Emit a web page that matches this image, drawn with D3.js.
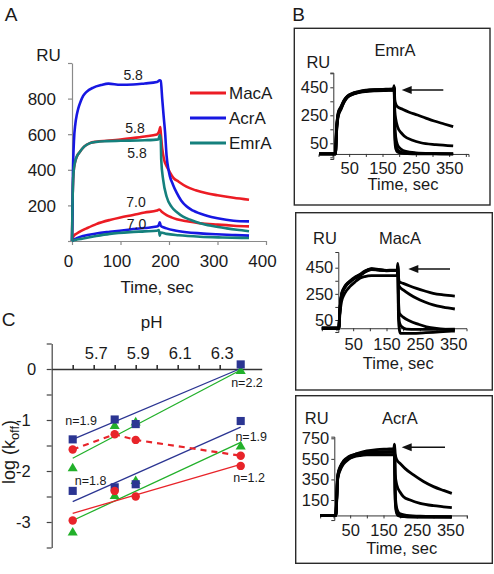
<!DOCTYPE html>
<html><head><meta charset="utf-8">
<script src="https://cdn.jsdelivr.net/npm/d3@7"></script>
<style>
body{margin:0;background:#fff}
svg{display:block;background:#fff}
text{font-family:"Liberation Sans",Arial,Helvetica,sans-serif;fill:#1a1a1a}
</style>
</head><body>
<svg id="c" width="494" height="574"></svg>
<script>
// ---------------- Panel A data (time s, RU) ----------------
const tickA_x = [0,100,200,300,400];
const tickA_y = [0,200,400,600,800,1000];
const labelA_y = [200,400,600,800];
const legendA = ["MacA","AcrA","EmrA"];
const macA_58 = [[0,0],[1,200],[3,380],[6,440],[10,475],[16,500],[25,530],[37,550],[50,558],[72,563],[100,570],[125,578],[150,587],[175,598],[180,620],[182,640],[183,610],[186,520],[190,455],[195,420],[200,395],[209,355],[220,333],[236,305],[255,285],[278,268],[300,257],[333,243],[365,232]];
const acrA_58 = [[0,0],[1,150],[2,380],[4,560],[7,660],[10,710],[13,745],[18,785],[23,815],[30,838],[44,862],[60,876],[75,884],[100,878],[126,879],[150,885],[175,893],[181,903],[183,900],[186,800],[189,700],[192,607],[195,480],[199,400],[202,362],[208,318],[216,270],[225,228],[236,195],[250,170],[278,142],[300,128],[333,114],[365,110]];
const emrA_58 = [[0,0],[1,200],[3,380],[6,440],[10,475],[16,500],[25,530],[37,550],[50,557],[72,561],[100,563],[150,566],[178,571],[181,595],[183,570],[184,456],[188,343],[195,250],[205,193],[217,160],[229,137],[245,118],[264,100],[290,84],[319,71],[340,63],[365,55]];
const macA_70 = [[0,0],[2,20],[4,30],[10,42],[20,58],[30,71],[50,95],[78,118],[100,132],[126,146],[150,160],[175,171],[180,177],[185,165],[195,146],[205,133],[216,122],[240,110],[264,100],[300,92],[333,86],[365,82]];
const acrA_70 = [[0,0],[4,8],[10,16],[23,28],[50,42],[78,52],[120,65],[150,73],[175,81],[179,90],[181,105],[183,85],[190,76],[195,71],[210,60],[236,49],[265,43],[298,38],[330,34],[365,30]];
const emrA_70 = [[0,0],[4,4],[10,8],[23,14],[50,28],[78,40],[120,50],[150,54],[175,58],[179,62],[181,30],[183,48],[195,40],[220,32],[264,24],[310,20],[365,17]];
const annotA = [["5.8",126,935],["5.8",130,636],["5.8",134,495],["7.0",132,219],["7.0",133,96]];

// ---------------- Panel B data (time s, RU) ----------------
const tickB_x = [0,50,100,150,200,250,300,350,400];
const labelB_x = [50,150,250,350];
const emrB = [
 [[-40,-26],[9,-26],[10,20],[12,140],[14,200],[17,255],[25,300],[35,352],[45,382],[60,402],[75,413],[100,424],[130,430],[160,431],[183,433],[185,462],[187,360],[190,330],[195,311],[210,293],[230,272],[255,252],[280,230],[305,209],[335,188],[362,169]],
 [[-40,-26],[9,-26],[10,10],[12,120],[14,185],[17,240],[25,290],[35,345],[45,378],[60,398],[75,410],[100,420],[130,425],[160,427],[183,428],[185,455],[187,280],[190,220],[195,169],[205,128],[215,102],[240,72],[265,54],[310,40],[362,31]],
 [[-40,-26],[9,-26],[10,30],[12,160],[14,215],[17,268],[25,310],[35,360],[45,388],[60,408],[75,418],[100,430],[130,434],[160,435],[183,436],[185,450],[187,180],[190,90],[195,40],[205,10],[220,-8],[250,-18],[300,-23],[362,-25]],
 [[-40,-26],[9,-26],[10,15],[12,130],[14,195],[17,250],[25,295],[35,348],[45,380],[60,400],[75,412],[100,422],[130,428],[160,430],[183,431],[185,445],[187,120],[190,40],[195,5],[205,-12],[225,-22],[362,-25]],
 [[-40,-26],[9,-26],[10,25],[12,150],[14,210],[17,262],[25,305],[35,356],[45,386],[60,405],[75,416],[100,427],[130,433],[160,436],[183,438],[185,440],[187,80],[190,10],[195,-12],[210,-22],[240,-25],[362,-25]]
];
const macB = [
 [[-44,-13],[7,-13],[8,20],[10,120],[12,180],[15,241],[22,290],[30,320],[40,343],[55,372],[70,394],[85,420],[105,440],[125,435],[150,430],[170,432],[182,432],[184,483],[186,380],[189,342],[200,330],[220,310],[240,292],[265,272],[290,254],[320,242],[355,233]],
 [[-44,-13],[7,-13],[8,10],[10,90],[12,140],[15,190],[22,240],[30,275],[40,305],[55,340],[70,369],[85,382],[105,389],[130,390],[160,390],[182,391],[184,470],[186,330],[189,304],[200,280],[220,245],[240,216],[265,188],[290,165],[320,148],[355,134]],
 [[-44,-13],[7,-13],[8,25],[10,125],[12,185],[15,245],[22,295],[30,325],[40,348],[55,377],[70,398],[85,425],[105,443],[125,438],[150,428],[170,430],[182,430],[184,460],[186,200],[189,101],[200,72],[220,42],[245,18],[270,-2],[300,-15],[330,-22],[355,-26]],
 [[-44,-13],[7,-13],[8,15],[10,115],[12,175],[15,236],[22,285],[30,316],[40,340],[55,368],[70,390],[85,415],[105,436],[125,432],[150,426],[170,428],[182,429],[184,440],[186,120],[189,30],[195,0],[210,-20],[240,-22],[355,-20]],
 [[-44,-13],[7,-13],[8,20],[10,118],[12,178],[15,238],[22,288],[30,318],[40,342],[55,370],[70,392],[85,418],[105,438],[125,433],[150,428],[170,430],[182,430],[184,445],[186,60],[189,-30],[192,-52],[230,-52],[260,-48],[290,-44],[320,-39],[355,-34]]
];
const acrB = [
 [[-40,0],[7,0],[8,50],[10,200],[12,361],[15,420],[20,465],[30,523],[45,565],[60,588],[80,610],[100,627],[130,640],[160,645],[181,648],[183,693],[185,600],[190,540],[200,505],[215,455],[240,394],[270,330],[300,280],[330,243],[355,215]],
 [[-40,0],[7,0],[8,40],[10,180],[12,340],[15,400],[20,450],[30,510],[45,552],[60,575],[80,595],[100,610],[130,618],[160,620],[181,622],[183,680],[185,400],[190,296],[200,225],[210,182],[230,150],[260,118],[300,95],[330,84],[355,75]],
 [[-40,0],[7,0],[8,60],[10,210],[12,370],[15,430],[20,475],[30,530],[45,570],[60,590],[80,603],[100,612],[130,616],[160,617],[181,618],[183,650],[185,250],[188,100],[193,40],[200,15],[220,0],[260,-8],[355,-12]],
 [[-40,0],[7,0],[8,35],[10,170],[12,330],[15,392],[20,440],[30,500],[45,545],[60,568],[80,582],[100,588],[130,590],[160,590],[181,590],[183,620],[185,200],[188,60],[193,10],[205,-8],[240,-14],[355,-15]],
 [[-40,0],[7,0],[8,55],[10,195],[12,355],[15,415],[20,460],[30,518],[45,560],[60,582],[80,600],[100,608],[130,612],[160,614],[181,615],[183,630],[185,150],[188,40],[193,0],[210,-12],[250,-16],[355,-18]]
];

// ---------------- Panel C data (pH, log koff) ----------------
const pH = [5.6,5.8,5.9,6.4];
const pHTicks = [5.6,5.7,5.8,5.9,6.0,6.1,6.2,6.3];
const pHLabels = [5.7,5.9,6.1,6.3];
const logTicks = [0.5,0,-0.5,-1,-1.5,-2,-2.5,-3,-3.5];
const logLabels = [0,-1,-2,-3];
const sqHi  = [-1.38,-0.99,-1.08,0.09];
const triHi = [-1.95,-1.12,-1.05,-0.04];
const cirHi = [-1.58,-1.28,-1.39,-1.70];
const sqLo  = [-2.39,-2.32,-2.26,-1.02];
const triLo = [-3.21,-2.49,-2.20,-1.52];
const cirLo = [-2.97,-2.39,-2.50,-1.90];
const fitPH = [5.6,6.4];
const fitSqHi = [-1.38,0.01];
const fitTriHi = [-1.75,-0.02];
const fitSqLo = [-2.60,-1.14];
const fitTriLo = [-2.97,-1.44];
const fitCirLo = [-2.83,-1.87];
const nLabels = [["n=1.9",5.64,-1.0],["n=1.8",5.685,-2.18],["n=2.2",6.43,-0.27],["n=1.9",6.45,-1.33],["n=1.2",6.44,-2.12]];

// ---------------- styles ----------------
const RED="#ec1c24", BLUE="#1717e2", TEAL="#15807d";
const NAVY="#2b3592", GREEN="#22b02a", CRED="#e8242a";
const FONT='"Liberation Sans",Arial,Helvetica,sans-serif';

const svg = d3.select("#c");
svg.append("rect").attr("width",494).attr("height",574).attr("fill","#fff");

function txt(g,s,x,y,size,anchor){
  return g.append("text").attr("x",x).attr("y",y).attr("font-size",size)
    .attr("text-anchor",anchor||"middle").text(s);
}
function styleAxis(sel,color,size,width){
  sel.selectAll("path,line").attr("stroke",color).attr("stroke-width",width||1);
  sel.selectAll("text").attr("fill","#1a1a1a").attr("font-size",size).attr("font-family",FONT);
}

// ================= Panel A =================
const gA = svg.append("g");
const xA = d3.scaleLinear().domain([0,400]).range([72,266]);
const yA = d3.scaleLinear().domain([0,1000]).range([241,63]);
const axYA = gA.append("g").attr("transform",`translate(${xA(0)},0)`)
  .call(d3.axisLeft(yA).tickValues(tickA_y).tickSize(4).tickSizeOuter(0).tickPadding(12)
    .tickFormat(d=>labelA_y.includes(d)?d:""));
styleAxis(axYA,"#8a8a8a",17,1.2);
axYA.selectAll("text").attr("dy","0.35em");
const axXA = gA.append("g").attr("transform",`translate(0,${yA(0)})`)
  .call(d3.axisBottom(xA).tickValues(tickA_x).tickSize(4).tickSizeOuter(0).tickPadding(10));
styleAxis(axXA,"#8a8a8a",17,1.2);
axXA.selectAll("text").attr("dx","-4");

const lineA = d3.line().x(d=>xA(d[0])).y(d=>yA(d[1])).curve(d3.curveMonotoneX);
[[macA_70,RED],[acrA_70,BLUE],[emrA_70,TEAL],[macA_58,RED],[acrA_58,BLUE],[emrA_58,TEAL]].forEach(([d,c])=>{
  gA.append("path").attr("d",lineA(d)).attr("fill","none").attr("stroke",c)
    .attr("stroke-width",2.6).attr("stroke-linejoin","round");
});
annotA.forEach(([s,t,v])=>txt(gA,s,xA(t),yA(v)+5,14));
txt(gA,"RU",48.5,61,17);
txt(gA,"Time, sec",157,293,17);
txt(gA,"A",11,21,19);
// legend
const legY=[93,118,143], legC=[RED,BLUE,TEAL];
legendA.forEach((s,i)=>{
  gA.append("line").attr("x1",190).attr("x2",226).attr("y1",legY[i]).attr("y2",legY[i])
    .attr("stroke",legC[i]).attr("stroke-width",3);
  txt(gA,s,229,legY[i]+6,17,"start");
});

// ================= Panel B =================
txt(svg,"B",298.5,21,19);
const boxCfg = [
 {data:emrB,frame:[294.3,28.3,490,205],t0:332.5,tMin:-42,tMax:408,yRef:[50,450],yPx:[143.3,87.3],yAxX:333.3,yMin:-62,yMax:555,baseV:-26,
  yTicks:[550,450,350,250,150,50,-50],yLabels:[450,250,50],title:"EmrA",titleP:[395,50],ruP:[318.3,61.7],timeP:[403,184],pad:5,arrow:[443.3,401.7,90]},
 {data:macB,frame:[295.7,212.7,492.3,390],t0:336.5,tMin:-44,tMax:390,yRef:[50,450],yPx:[320,267.7],yAxX:338.3,yMin:-42,yMax:570,baseV:-13,
  yTicks:[450,350,250,150,50],yLabels:[450,250,50],title:"MacA",titleP:[400,238.3],ruP:[325,238.3],timeP:[398.3,363.3],pad:7,arrow:[450,408.3,269]},
 {data:acrB,frame:[295.7,395.7,492.3,563.3],t0:333.5,tMin:-40,tMax:400,yRef:[150,750],yPx:[500,438.3],yAxX:334.3,yMin:-45,yMax:766,baseV:0,
  yTicks:[750,550,350,150],yLabels:[750,550,350,150],title:"AcrA",titleP:[400,418.3],ruP:[316.7,418.3],timeP:[401.7,548.3],pad:6,arrow:[445,401.7,447.3]}
];
boxCfg.forEach(cfg=>{
  const g = svg.append("g");
  const f = cfg.frame;
  g.append("rect").attr("x",f[0]).attr("y",f[1]).attr("width",f[2]-f[0]).attr("height",f[3]-f[1])
    .attr("fill","none").attr("stroke","#2a2a2a").attr("stroke-width",1.4);
  const x = d3.scaleLinear().domain([0,300]).range([cfg.t0,cfg.t0+100]);
  const y = d3.scaleLinear().domain(cfg.yRef).range(cfg.yPx);
  const xAx = d3.scaleLinear().domain([cfg.tMin,cfg.tMax]).range([x(cfg.tMin),x(cfg.tMax)]);
  const yAx = d3.scaleLinear().domain([cfg.yMin,cfg.yMax]).range([y(cfg.yMin),y(cfg.yMax)]);
  const ax = g.append("g").attr("transform",`translate(0,${y(cfg.baseV)})`)
    .call(d3.axisBottom(xAx).tickValues(tickB_x.filter(d=>d>=cfg.tMin&&d<=cfg.tMax)).tickSize(3).tickSizeOuter(3).tickPadding(cfg.pad)
      .tickFormat(d=>labelB_x.includes(d)?d:""));
  styleAxis(ax,"#333",16.5,1);
  const ay = g.append("g").attr("transform",`translate(${cfg.yAxX},0)`)
    .call(d3.axisLeft(yAx).tickValues(cfg.yTicks).tickSize(3).tickSizeOuter(3).tickPadding(2)
      .tickFormat(d=>cfg.yLabels.includes(d)?d:""));
  styleAxis(ay,"#333",16.5,1);
  const ln = d3.line().x(d=>x(d[0])).y(d=>y(d[1])).curve(d3.curveMonotoneX);
  cfg.data.forEach(d=>g.append("path").attr("d",ln(d)).attr("fill","none").attr("stroke","#000")
    .attr("stroke-width",2.8).attr("stroke-linejoin","round"));
  txt(g,cfg.title,cfg.titleP[0],cfg.titleP[1]+6,16.5);
  txt(g,"RU",cfg.ruP[0],cfg.ruP[1]+6,16.5);
  txt(g,"Time, sec",cfg.timeP[0],cfg.timeP[1]+6,16.5);
  const [ax1,ax2,ayy] = cfg.arrow;
  g.append("line").attr("x1",ax1).attr("x2",ax2+8).attr("y1",ayy).attr("y2",ayy).attr("stroke","#111").attr("stroke-width",1.6);
  g.append("path").attr("d",`M${ax2},${ayy}L${ax2+10},${ayy-4}L${ax2+10},${ayy+4}Z`).attr("fill","#111");
});

// ================= Panel C =================
const gC = svg.append("g");
const xC = d3.scaleLinear().domain([5.5,6.5]).range([51.7,261.7]);
const yC = d3.scaleLinear().domain([0.5,-3.5]).range([343.5,547.5]);
const cay = gC.append("g").attr("transform",`translate(${xC(5.5)},0)`)
  .call(d3.axisLeft(yC).tickValues(logTicks).tickSize(5).tickSizeOuter(0).tickPadding(6)
    .tickFormat(d=>logLabels.includes(d)?(d===0?"0":String(d)):""));
styleAxis(cay,"#444",16.5,1.2);
cay.selectAll("text").attr("dx",d=>d===0?"-4.5":"-10").attr("dy","0.35em");
const cax = gC.append("g").attr("transform",`translate(0,${yC(0)})`)
  .call(d3.axisTop(xC).tickValues(pHTicks).tickSize(4).tickSizeOuter(0).tickPadding(6)
    .tickFormat(d=>pHLabels.includes(d)?d3.format(".1f")(d):""));
styleAxis(cax,"#333",16.5,1.6);
cax.selectAll("text").attr("dx","2");
txt(gC,"pH",151.7,328,17);
txt(gC,"C",8.5,326,19);
// y label
const yl = gC.append("text").attr("transform","translate(14.5,452) rotate(-90)").attr("text-anchor","middle").attr("font-size",18);
yl.append("tspan").text("log (k");
yl.append("tspan").attr("font-size",13).attr("dy",4).text("off");
yl.append("tspan").attr("dy",-4).text(")");

const lineC = d3.line().x(d=>xC(d[0])).y(d=>yC(d[1]));
[[fitSqHi,NAVY],[fitTriHi,GREEN],[fitSqLo,NAVY],[fitTriLo,GREEN],[fitCirLo,CRED]].forEach(([v,c])=>{
  gC.append("path").attr("d",lineC(fitPH.map((p,i)=>[p,v[i]]))).attr("stroke",c).attr("stroke-width",1.3).attr("fill","none");
});
gC.append("path").attr("d",lineC(pH.map((p,i)=>[p,cirHi[i]]))).attr("stroke",CRED).attr("stroke-width",2.2)
  .attr("stroke-dasharray","6,5").attr("fill","none");
function markers(vals,type,size,color){
  gC.selectAll(null).data(pH.map((p,i)=>[p,vals[i]])).enter().append("path")
    .attr("d",d3.symbol().type(type).size(size))
    .attr("transform",d=>`translate(${xC(d[0])},${yC(d[1])})`).attr("fill",color);
}
markers(triHi,d3.symbolTriangle,44,GREEN);
markers(triLo,d3.symbolTriangle,44,GREEN);
markers(sqHi,d3.symbolSquare,66,NAVY);
markers(sqLo,d3.symbolSquare,66,NAVY);
markers(cirHi,d3.symbolCircle,56,CRED);
markers(cirLo,d3.symbolCircle,56,CRED);
nLabels.forEach(([s,p,v])=>txt(gC,s,xC(p),yC(v)+4.5,12.5));
</script>
</body></html>
